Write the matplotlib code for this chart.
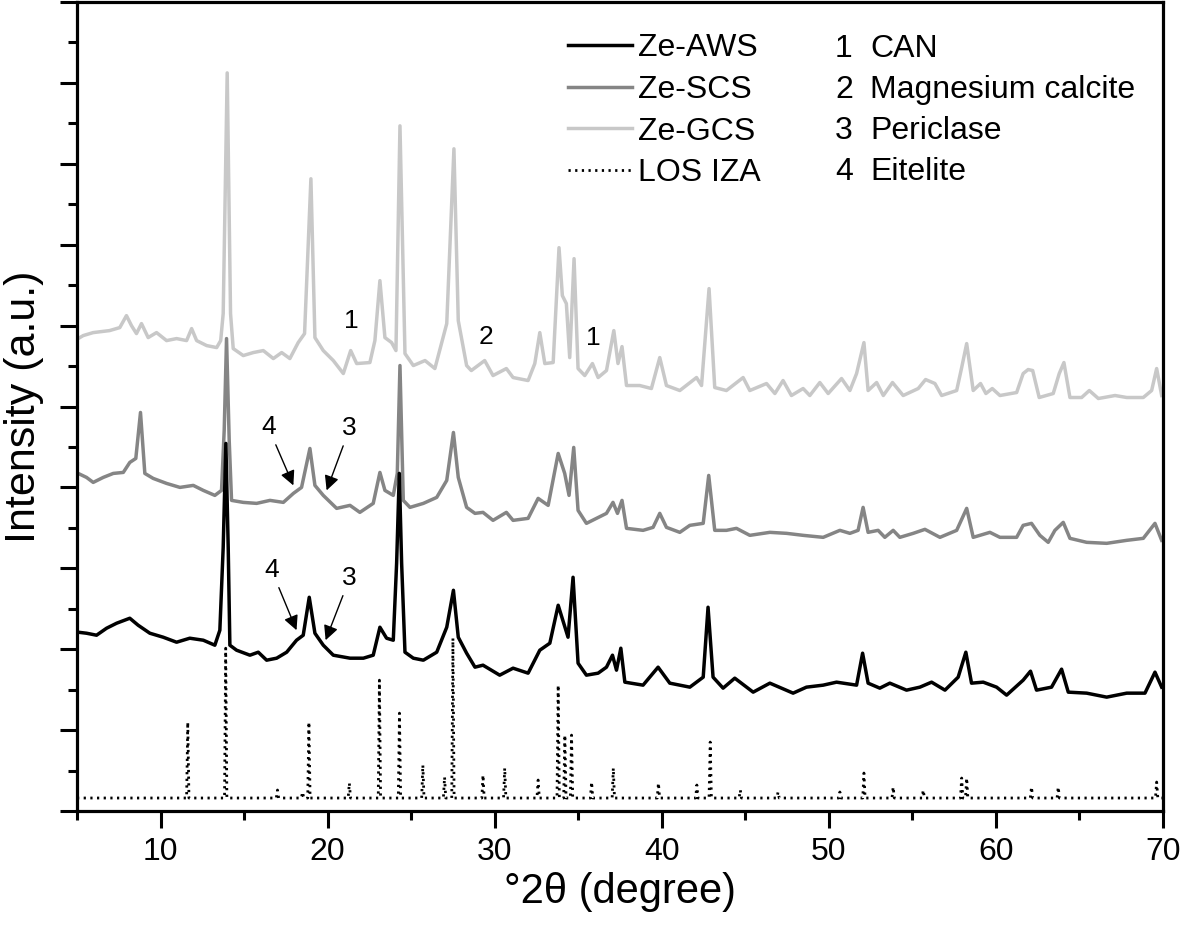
import matplotlib
matplotlib.use("Agg")
import matplotlib.pyplot as plt
from matplotlib.ticker import MultipleLocator

plt.rcParams['font.family'] = ['Liberation Sans', 'DejaVu Sans']

# traced XRD patterns (2theta in degree, intensity in a.u. with offsets)
gcs_tt = [5.07, 5.37, 5.97, 6.95, 7.56, 7.96, 8.26, 8.56, 8.86, 9.26, 9.76, 10.36, 10.96, 11.56, 11.86,
          12.16, 12.76, 13.36, 13.6, 13.75, 13.99, 14.19, 14.35, 14.95, 15.55, 16.15, 16.75, 17.25, 17.74,
          18.24, 18.62, 19.0, 19.24, 19.74, 20.34, 20.94, 21.38, 21.74, 22.53, 22.83, 23.13, 23.43, 23.83,
          24.09, 24.33, 24.63, 25.13, 25.83, 26.42, 27.13, 27.56, 27.82, 28.32, 28.6, 29.4, 29.9, 30.7,
          31.1, 32.0, 32.4, 32.7, 33.0, 33.5, 33.85, 34.05, 34.29, 34.49, 34.75, 34.99, 35.39, 35.85, 36.19,
          36.69, 37.13, 37.38, 37.62, 37.89, 38.68, 39.38, 39.88, 40.28, 41.08, 42.08, 42.38, 42.83, 43.17,
          43.87, 44.87, 45.27, 46.27, 46.77, 47.26, 47.76, 48.46, 48.86, 49.46, 49.96, 50.76, 51.26, 51.66,
          52.1, 52.35, 52.86, 53.26, 53.81, 54.45, 55.35, 55.79, 56.35, 56.75, 57.65, 57.95, 58.25, 58.64,
          59.08, 59.4, 59.78, 60.24, 61.24, 61.63, 61.93, 62.2, 62.59, 63.43, 63.79, 64.07, 64.43, 65.13,
          65.59, 66.13, 67.13, 67.83, 68.82, 69.32, 69.62, 69.92]
gcs_int = [473, 476, 479, 481, 484, 496, 486, 478, 488, 474, 479, 471, 473, 471, 483,
           471, 466, 464, 471, 498, 739, 498, 463, 456, 459, 461, 453, 459, 453,
           469, 478, 633, 474, 461, 451, 438, 461, 448, 449, 471, 531, 474, 469,
           461, 686, 458, 446, 451, 443, 488, 663, 491, 446, 441, 451, 436, 443,
           434, 431, 448, 479, 448, 449, 564, 516, 508, 454, 553, 443, 436, 448, 434,
           441, 481, 448, 465, 426, 426, 423, 454, 426, 421, 434, 426, 523, 424,
           421, 434, 421, 428, 418, 431, 416, 423, 416, 429, 418, 433, 421, 438,
           469, 421, 429, 416, 429, 416, 423, 432, 428, 416, 421, 444, 468, 421,
           428, 418, 423, 416, 419, 438, 442, 441, 414, 418, 438, 449, 414, 414,
           421, 413, 416, 414, 414, 421, 443, 416]

scs_tt = [5.07, 5.57, 5.97, 6.57, 7.17, 7.77, 8.16, 8.52, 8.8, 9.06, 9.56, 10.36, 11.16, 11.96, 12.56,
          13.25, 13.65, 13.81, 13.95, 14.11, 14.25, 14.95, 15.75, 16.55, 17.35, 17.95, 18.44, 18.94, 19.24,
          19.74, 20.54, 21.34, 21.93, 22.73, 23.13, 23.43, 23.93, 24.17, 24.33, 24.53, 24.93, 25.73, 26.53,
          27.13, 27.53, 27.82, 28.32, 28.82, 29.3, 29.9, 30.7, 31.1, 32.0, 32.6, 33.2, 33.8, 34.19, 34.45,
          34.73, 34.99, 35.49, 36.09, 36.69, 37.08, 37.35, 37.62, 37.89, 38.88, 39.48, 39.88, 40.28, 41.08,
          41.68, 42.48, 42.81, 43.17, 43.87, 44.47, 45.27, 46.47, 47.47, 48.46, 49.66, 50.66, 51.26, 51.75,
          52.05, 52.35, 52.95, 53.35, 53.85, 54.25, 55.05, 55.75, 56.65, 57.65, 58.25, 58.64, 59.64, 60.24,
          61.24, 61.63, 62.13, 62.63, 63.13, 63.53, 64.03, 64.43, 65.43, 66.63, 67.83, 68.82, 69.52, 69.92]
scs_int = [338, 334, 329, 334, 338, 339, 349, 353, 399, 338, 333, 328, 324, 326, 321,
           316, 321, 381, 473, 371, 311, 309, 308, 311, 309, 318, 324, 363, 326,
           316, 303, 306, 299, 308, 339, 321, 316, 338, 446, 311, 304, 308, 314,
           331, 379, 334, 304, 298, 299, 291, 299, 291, 293, 313, 306, 358, 338, 316,
           364, 301, 288, 293, 298, 309, 298, 311, 283, 281, 284, 298, 284, 279,
           286, 288, 336, 281, 281, 283, 276, 279, 278, 276, 274, 281, 278, 281,
           304, 279, 281, 274, 281, 274, 278, 282, 274, 281, 303, 274, 279, 274,
           274, 286, 288, 276, 269, 281, 289, 273, 269, 268, 271, 273, 288, 271]

aws_tt = [5.07, 5.57, 6.17, 6.77, 7.37, 8.16, 8.66, 9.36, 10.16, 10.96, 11.75, 12.56, 13.25, 13.55, 13.75,
          13.91, 14.05, 14.15, 14.55, 15.35, 15.85, 16.35, 16.95, 17.55, 18.14, 18.54, 18.9, 19.24, 19.74,
          20.34, 21.34, 22.14, 22.73, 23.13, 23.53, 23.93, 24.13, 24.29, 24.43, 24.63, 25.13, 25.73, 26.53,
          27.13, 27.53, 27.82, 28.32, 28.82, 29.3, 30.3, 31.1, 32.0, 32.7, 33.3, 33.8, 34.39, 34.69, 34.99,
          35.49, 36.19, 36.69, 37.05, 37.29, 37.55, 37.79, 38.88, 39.78, 40.48, 41.68, 42.48, 42.77, 43.07,
          43.67, 44.37, 45.47, 46.47, 47.86, 48.66, 49.66, 50.46, 51.66, 52.02, 52.35, 53.05, 53.65, 54.65,
          55.45, 56.15, 56.95, 57.74, 58.2, 58.54, 59.24, 60.04, 60.64, 61.63, 62.07, 62.43, 63.33, 63.93,
          64.33, 65.43, 66.63, 67.83, 68.92, 69.52, 69.92]
aws_int = [179, 178, 176, 183, 188, 193, 186, 178, 174, 169, 173, 171, 166, 181, 264,
           368, 264, 166, 161, 156, 159, 151, 153, 159, 171, 176, 214, 178, 166,
           156, 153, 153, 156, 184, 173, 171, 248, 338, 248, 159, 153, 151, 159,
           184, 221, 174, 158, 144, 146, 136, 143, 138, 161, 168, 206, 174, 234, 148,
           136, 138, 144, 156, 141, 163, 129, 126, 144, 128, 124, 134, 204, 134,
           123, 133, 119, 128, 118, 124, 126, 129, 126, 158, 128, 123, 128, 121,
           124, 129, 121, 134, 159, 128, 129, 124, 116, 131, 140, 121, 124, 142,
           119, 118, 114, 118, 118, 139, 124]

# LOS reference pattern from IZA: reflection positions and heights
los_base = 13
los_pos = [11.63, 13.9, 17.0, 18.5, 18.88, 21.3, 23.1, 24.3, 25.7, 27.0, 27.5, 29.3, 30.6, 32.6, 33.8,
           34.2, 34.6, 35.8, 37.1, 39.8, 42.1, 42.9, 44.7, 46.96, 50.66, 52.1, 53.85, 55.65, 57.95, 58.25,
           62.13, 63.73, 69.62]
los_int = [89, 163, 21, 19, 89, 28, 131, 98, 46, 34, 173, 36, 43, 31, 126,
           76, 76, 29, 43, 28, 26, 69, 21, 19, 19, 38, 24, 21, 33, 33,
           24, 24, 29]

series_labels = ['Ze-AWS', 'Ze-SCS', 'Ze-GCS', 'LOS IZA']
phase_ids = ['1', '2', '3', '4']
phase_names = ['CAN', 'Magnesium calcite', 'Periclase', 'Eitelite']

fig = plt.figure(figsize=(11.81, 9.31), dpi=100)
ax = fig.add_axes([77 / 1181, 1 - 811 / 931, 1086 / 1181, 809 / 931])

l_gcs, = ax.plot(gcs_tt, gcs_int, color='#c8c8c8', lw=2.5)
l_scs, = ax.plot(scs_tt, scs_int, color='#858585', lw=2.5)
l_aws, = ax.plot(aws_tt, aws_int, color='black', lw=2.5)

sx = [5]
sy = [los_base]
for p, h in zip(los_pos, los_int):
    sx += [p - 0.07, p, p + 0.07]
    sy += [los_base, h, los_base]
sx.append(70)
sy.append(los_base)
l_los, = ax.plot(sx, sy, color='black', lw=2, linestyle=(0, (0.8, 1.6)))

ax.set_xlim(5, 70)
ax.set_ylim(0, 810)
ax.xaxis.set_major_locator(MultipleLocator(10))
ax.xaxis.set_minor_locator(MultipleLocator(5))
ax.yaxis.set_major_locator(MultipleLocator(81))
ax.yaxis.set_minor_locator(MultipleLocator(40.5))
ax.tick_params(which='both', direction='out', width=2.2, top=False, right=False)
ax.tick_params(which='major', length=12, labelsize=23, pad=7)
ax.tick_params(which='minor', length=6.5)
ax.set_yticklabels([])
for s in ax.spines.values():
    s.set_linewidth(2.3)

ax.set_xlabel('°2θ (degree)', fontsize=30, labelpad=3)
ax.set_ylabel('Intensity (a.u.)', fontsize=31, labelpad=5)

ax.legend([l_aws, l_scs, l_gcs, l_los], series_labels, loc='upper left',
          bbox_to_anchor=(568 / 1181, 1 - 33 / 931), bbox_transform=fig.transFigure,
          frameon=False, fontsize=23, handlelength=2.0, handletextpad=0.2,
          labelspacing=0.37, borderpad=0, borderaxespad=0)

row_y = [49, 90, 131, 172]
for i in range(4):
    fig.text(835 / 1181, 1 - row_y[i] / 931, phase_ids[i], fontsize=23, va='center')
    fig.text(870 / 1181, 1 - row_y[i] / 931, phase_names[i], fontsize=23, va='center')

# phase marks on the patterns
ax.text(21.4, 491, '1', fontsize=19, ha='center', va='center')
ax.text(29.5, 475, '2', fontsize=19, ha='center', va='center')
ax.text(35.9, 474, '1', fontsize=19, ha='center', va='center')

arrows = [('4', (16.45, 384), (17.95, 326)), ('3', (21.32, 383), (19.94, 321)),
          ('4', (16.65, 241), (18.14, 181)), ('3', (21.32, 233), (19.88, 171))]
for lab, txt, tip in arrows:
    ax.annotate(lab, xy=tip, xytext=txt, fontsize=19, ha='center', va='center',
                arrowprops=dict(arrowstyle='-|>', color='black', lw=1, mutation_scale=22,
                                shrinkA=2, shrinkB=0))

fig.savefig('out.png', dpi=100)
